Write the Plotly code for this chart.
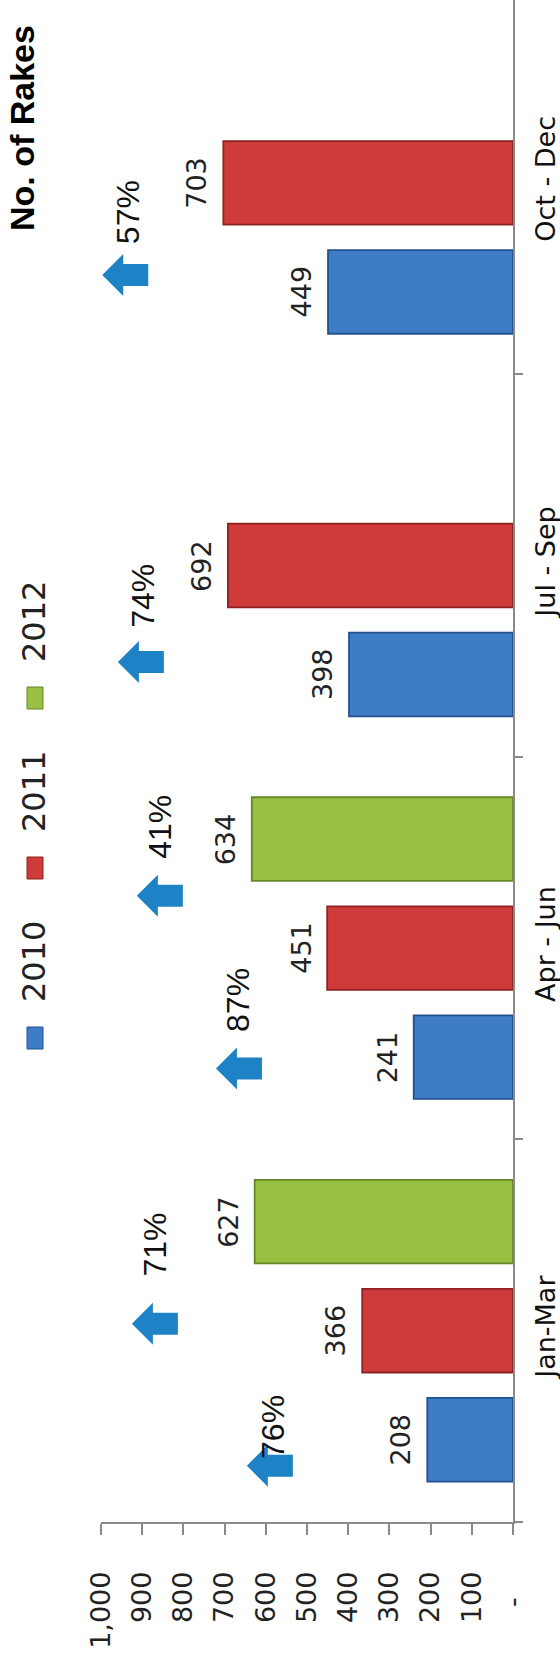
import plotly.graph_objects as go

# ---------------- data ----------------
categories = ["Jan-Mar", "Apr - Jun", "Jul - Sep", "Oct - Dec"]
series_names = ["2010", "2011", "2012"]
values_2010 = [208, 241, 398, 449]
values_2011 = [366, 451, 692, 703]
values_2012 = [627, 634, None, None]
series_values = [values_2010, values_2011, values_2012]

tick_values = [0, 100, 200, 300, 400, 500, 600, 700, 800, 900, 1000]
tick_labels = ["-\u00a0\u00a0\u00a0", "100", "200", "300", "400", "500",
               "600", "700", "800", "900", "1,000"]

growth_labels = ["76%", "71%", "87%", "41%", "74%", "57%"]
# placement of the growth arrows / labels in data coordinates
arrow_tip_value = [646, 925, 721, 913, 959, 997]
arrow_tip_cat = [-0.353, 0.018, 0.685, 1.137, 1.748, 2.759]
label_value = [582, 869, 667, 857, 898, 934]
label_cat = [-0.251, 0.225, 0.865, 1.317, 1.921, 2.924]

title_text = "No. of Rakes"

# ---------------- styles ----------------
fill_colors = ["#3d7cc6", "#cf3b3a", "#98c143"]
edge_colors = ["#22528c", "#8c2222", "#66862a"]
arrow_color = "#1d82c6"
axis_color = "#8a8a8a"
W, H = 560, 1662
ML, MR, MT, MB = 101, 47, 0, 140
PW, PH = W - ML - MR, H - MT - MB
BARGAP, BARGROUPGAP = 0.145, 0.233
ARROW_PATH = "M0,0 L21,21 L21,11 L46,11 L46,-11 L21,-11 L21,-21 Z"


def px_x(px):
    return (px - ML) / PW


def px_y(py):
    return (H - MB - py) / PH


fig = go.Figure()
annotations = []
n_series = len(series_names)
slot = (1 - BARGAP) / n_series
for i, (name, vals, fc, ec) in enumerate(zip(series_names, series_values,
                                              fill_colors, edge_colors)):
    fig.add_trace(go.Bar(
        name=name,
        y=categories,
        x=vals,
        orientation="h",
        marker=dict(color=fc, line=dict(color=ec, width=1.8)),
        showlegend=False,
    ))
    offset = (i - (n_series - 1) / 2) * slot
    for k, v in enumerate(vals):
        if v is None:
            continue
        annotations.append(dict(
            x=v, y=k + offset, xref="x", yref="y", text=str(v),
            showarrow=False, textangle=-90, xanchor="right", yanchor="middle",
            xshift=-9,
            font=dict(family="DejaVu Sans", size=27, color="#222222"),
        ))

shapes = []
# growth arrows and percentages
for lab, tv, tc, lv, lc in zip(growth_labels, arrow_tip_value, arrow_tip_cat,
                               label_value, label_cat):
    shapes.append(dict(
        type="path", xref="x", yref="y", xsizemode="pixel", ysizemode="pixel",
        xanchor=tv, yanchor=tc, path=ARROW_PATH,
        fillcolor=arrow_color, line=dict(width=0),
    ))
    annotations.append(dict(
        x=lv, y=lc, xref="x", yref="y", text=lab, showarrow=False,
        textangle=-90, xanchor="center", yanchor="middle",
        font=dict(family="Liberation Sans", size=32, color="#111111"),
    ))

# title
annotations.append(dict(
    x=px_x(22), y=px_y(128), xref="paper", yref="paper",
    text="<b>" + title_text + "</b>", showarrow=False, textangle=-90,
    xanchor="center", yanchor="middle",
    font=dict(family="Liberation Sans", size=34, color="#000000"),
))

# rotated legend
for i, (name, fc, ec) in enumerate(zip(series_names, fill_colors, edge_colors)):
    mc = 1038 - 170 * i
    shapes.append(dict(
        type="rect", xref="paper", yref="paper",
        x0=px_x(27), x1=px_x(43), y0=px_y(mc + 11), y1=px_y(mc - 11),
        fillcolor=fc, line=dict(color=ec, width=1),
    ))
    annotations.append(dict(
        x=px_x(34), y=px_y(mc - 76), xref="paper", yref="paper",
        text=name, showarrow=False, textangle=-90,
        xanchor="center", yanchor="middle",
        font=dict(family="DejaVu Sans", size=32, color="#222222"),
    ))

fig.update_layout(
    width=W, height=H, autosize=False,
    margin=dict(l=ML, r=MR, t=MT, b=MB, pad=0),
    paper_bgcolor="white", plot_bgcolor="white",
    barmode="group", bargap=BARGAP, bargroupgap=BARGROUPGAP,
    showlegend=False,
    annotations=annotations, shapes=shapes,
    xaxis=dict(
        range=[1000, 0], tickmode="array", tickvals=tick_values, ticktext=tick_labels,
        tickangle=-90, showgrid=False, zeroline=False,
        showline=True, linecolor=axis_color, linewidth=1.5,
        ticks="outside", ticklen=11, tickcolor=axis_color, tickwidth=1.5,
        ticklabelstandoff=26,
        tickfont=dict(family="DejaVu Sans", size=27, color="#222222"),
    ),
    yaxis=dict(
        type="category", categoryorder="array", categoryarray=categories,
        range=[-0.5, 3.478], side="right", tickangle=-90,
        showgrid=False, zeroline=False,
        showline=True, linecolor=axis_color, linewidth=1.5,
        ticks="outside", tickson="boundaries", ticklen=8,
        tickcolor=axis_color, tickwidth=1.5, ticklabelstandoff=8,
        tickfont=dict(family="DejaVu Sans", size=27, color="#111111"),
    ),
)

fig.write_html("out.html", config={"displayModeBar": False})
